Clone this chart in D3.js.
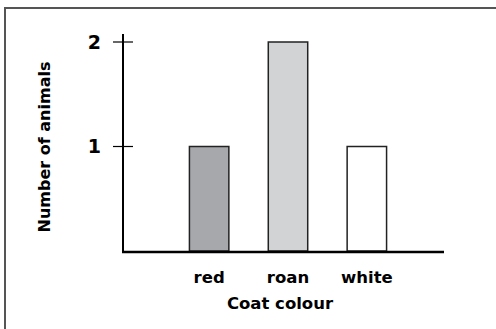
<!DOCTYPE html>
<html>
<head>
<meta charset="utf-8">
<script src="https://cdn.jsdelivr.net/npm/d3@7"></script>
<style>
  body { margin: 0; background: #fff; }
  svg { display: block; font-family: "DejaVu Sans", Verdana, sans-serif; font-weight: bold; }
</style>
</head>
<body>
<div id="chart"></div>
<script>
const categories = ["red", "roan", "white"];
const counts = [1, 2, 1];
const fills = ["#a7a8ab", "#d2d3d5", "#ffffff"];
const y_ticks = [1, 2];

const width = 496, height = 329;

let svg = d3.select("#chart").append("svg")
  .attr("width", width)
  .attr("height", height);

// outer frame
svg.append("rect")
  .attr("x", 5).attr("y", 8)
  .attr("width", 496).attr("height", 340)
  .attr("fill", "none")
  .attr("stroke", "#555")
  .attr("stroke-width", 2);

let x = d3.scaleBand()
  .domain(categories)
  .range([150, 426])
  .padding(0.5);
let y = d3.scaleLinear()
  .domain([0, 2])
  .range([251, 42]);

// bars
svg.selectAll(".bar")
  .data(categories)
  .enter().append("rect")
  .attr("class", "bar")
  .attr("x", d => x(d))
  .attr("width", x.bandwidth())
  .attr("y", (d, i) => y(counts[i]))
  .attr("height", (d, i) => y(0) - y(counts[i]))
  .attr("fill", (d, i) => fills[i])
  .attr("stroke", "#222")
  .attr("stroke-width", 1.5);

// y axis line
svg.append("line")
  .attr("x1", 123).attr("x2", 123)
  .attr("y1", 34).attr("y2", y(0) + 1)
  .attr("stroke", "#000").attr("stroke-width", 2);

// x axis line
svg.append("line")
  .attr("x1", 122).attr("x2", 444)
  .attr("y1", y(0) + 1).attr("y2", y(0) + 1)
  .attr("stroke", "#000").attr("stroke-width", 2.5);

// y ticks crossing the axis
let yt = svg.selectAll(".ytick")
  .data(y_ticks)
  .enter().append("g")
  .attr("class", "ytick")
  .attr("transform", d => "translate(0," + y(d) + ")");
yt.append("line")
  .attr("x1", 113).attr("x2", 133)
  .attr("stroke", "#000").attr("stroke-width", 1.2);
yt.append("text")
  .attr("x", 101)
  .attr("dy", "0.36em")
  .attr("text-anchor", "end")
  .attr("font-size", 19)
  .text(d => d);

// category labels
svg.selectAll(".xlabel")
  .data(categories)
  .enter().append("text")
  .attr("class", "xlabel")
  .attr("x", d => x(d) + x.bandwidth() / 2)
  .attr("y", 283)
  .attr("text-anchor", "middle")
  .attr("font-size", 16.5)
  .text(d => d);

svg.append("text")
  .attr("x", 280)
  .attr("y", 309)
  .attr("text-anchor", "middle")
  .attr("font-size", 16.5)
  .text("Coat colour");

svg.append("text")
  .attr("transform", "translate(50,147) rotate(-90)")
  .attr("text-anchor", "middle")
  .attr("font-size", 16)
  .text("Number of animals");
</script>
</body>
</html>
